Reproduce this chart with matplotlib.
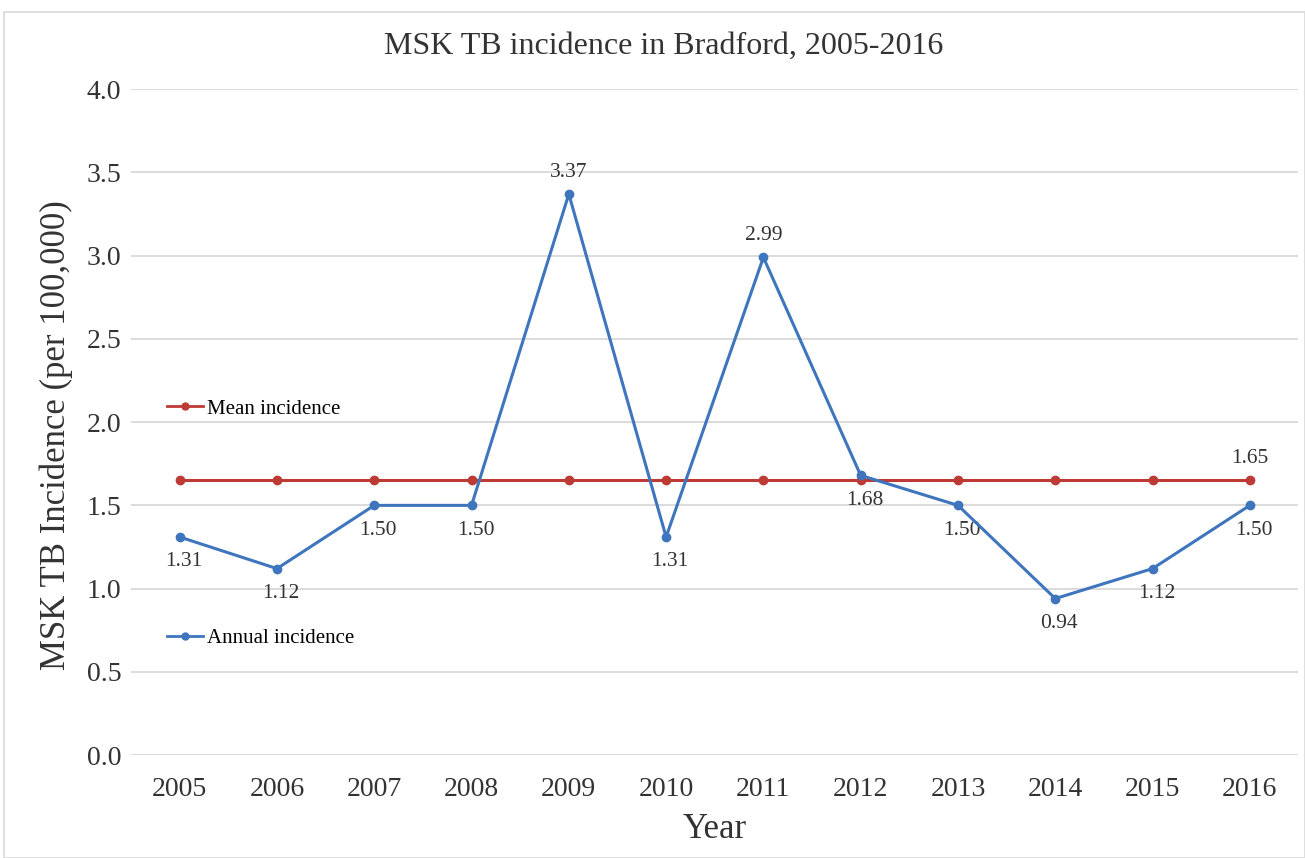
import matplotlib
matplotlib.use("Agg")
import matplotlib.pyplot as plt
from matplotlib.patches import Rectangle
from matplotlib.lines import Line2D

plt.rcParams['font.family'] = ['Liberation Serif', 'DejaVu Serif']

years = ['2005', '2006', '2007', '2008', '2009', '2010',
         '2011', '2012', '2013', '2014', '2015', '2016']
annual = [1.31, 1.12, 1.50, 1.50, 3.37, 1.31, 2.99, 1.68, 1.50, 0.94, 1.12, 1.50]
mean = [1.65] * 12

# where each annual label sits: above or below the point
label_pos = ['below', 'below', 'below', 'below', 'above', 'below',
             'above', 'below', 'below', 'below', 'below', 'below']

blue = '#3E75BC'
red = '#BE3A35'
txt = '#333333'

fig = plt.figure(figsize=(13.05, 8.58), dpi=100)
ax = fig.add_axes([0.1004, 0.12, 0.8946, 0.776])

x = list(range(len(years)))
ax.plot(x, mean, color=red, lw=2.2, marker='o', ms=6, zorder=3)
ax.plot(x, annual, color=blue, lw=2.2, marker='o', ms=6, zorder=4)

for i, v in enumerate(annual):
    if label_pos[i] == 'above':
        ax.annotate('%.2f' % v, (i, v), xytext=(0, 9), textcoords='offset points',
                    ha='center', va='bottom', fontsize=15.5, color=txt)
    else:
        ax.annotate('%.2f' % v, (i, v), xytext=(3, -11), textcoords='offset points',
                    ha='center', va='top', fontsize=15.5, color=txt)
ax.annotate('%.2f' % mean[-1], (x[-1], mean[-1]), xytext=(0, 9), textcoords='offset points',
            ha='center', va='bottom', fontsize=15.5, color=txt)

ax.set_xlim(-0.5, len(years) - 0.5)
ax.set_ylim(0, 4.0)
ax.set_yticks([0, 0.5, 1.0, 1.5, 2.0, 2.5, 3.0, 3.5, 4.0])
ax.set_yticklabels(['%.1f' % t for t in ax.get_yticks()])
ax.set_xticks(x)
ax.set_xticklabels(years)
ax.tick_params(length=0, labelsize=20, colors=txt)
ax.tick_params(axis='y', pad=7)
ax.tick_params(axis='x', pad=16)
ax.yaxis.grid(True, color='#D9D9D9', lw=1.3)
ax.set_axisbelow(True)
for s in ax.spines.values():
    s.set_visible(False)

ax.set_xlabel('Year', fontsize=25, color=txt, labelpad=8)
ax.set_ylabel('MSK TB Incidence (per 100,000)', fontsize=25, color=txt)
ax.yaxis.set_label_coords(-0.05, 0.48)
fig.text(664 / 1305, 1 - 46 / 858, 'MSK TB incidence in Bradford, 2005-2016',
         fontsize=23, color=txt, ha='center', va='center')

# two separate legend entries as in the original
leg1 = ax.legend([Line2D([], [], color=red, lw=2, marker='o', ms=5)], ['Mean incidence'],
                 loc='center left', bbox_to_anchor=(0.015, 0.52), frameon=False,
                 fontsize=15, handlelength=1.7, handletextpad=0.2)
ax.add_artist(leg1)
ax.legend([Line2D([], [], color=blue, lw=2, marker='o', ms=5)], ['Annual incidence'],
          loc='center left', bbox_to_anchor=(0.015, 0.175), frameon=False,
          fontsize=15, handlelength=1.7, handletextpad=0.2)

# thin frame around the whole picture
fig.patches.append(Rectangle((4 / 1305, 0), 1 - 4 / 1305, 1 - 12 / 858,
                             transform=fig.transFigure, fill=False,
                             edgecolor='#D9D9D9', lw=1.2))

fig.savefig('out.png', dpi=100)
